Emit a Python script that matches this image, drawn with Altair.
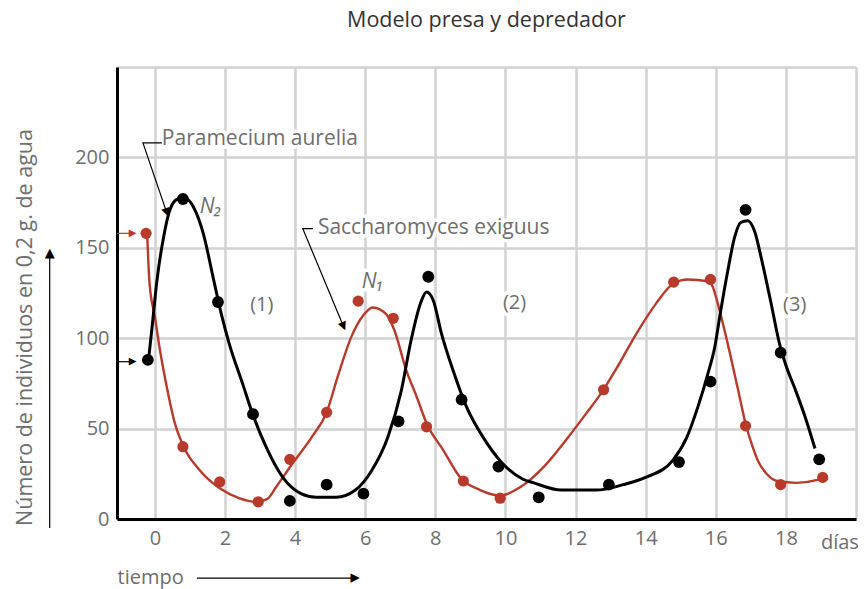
import altair as alt
import pandas as pd

# ---------------- data ----------------
# Paramecium aurelia (predator, N2) - observed points
para_x = [-0.2, 0.8, 1.8, 2.8, 3.85, 4.9, 5.95, 6.95, 7.8, 8.75, 9.8, 10.95, 12.95, 14.95, 15.85, 16.85, 17.85, 18.95]
para_y = [88, 177, 120, 58, 10, 19, 14, 54, 134, 66, 29, 12, 19, 31.5, 76, 171, 92, 33]

# Saccharomyces exiguus (prey, N1) - observed points
sacc_x = [-0.25, 0.8, 1.85, 2.95, 3.85, 4.9, 5.8, 6.8, 7.75, 8.8, 9.85, 12.8, 14.8, 15.85, 16.85, 17.85, 19.05]
sacc_y = [158, 40, 20.5, 9.5, 33, 59, 120.5, 111, 51, 21, 11.5, 71.5, 131, 132.5, 51.5, 19, 23]

# fitted curve for Paramecium (black)
para_curve_x = [-0.17, -0.08, 0.06, 0.25, 0.43, 0.65, 0.85, 1.1, 1.38, 1.68, 1.9, 2.12, 2.5, 2.8, 3.17,
                3.65, 4.17, 4.6, 5.17, 5.72, 6.19, 6.64, 7.03, 7.31, 7.58, 7.75, 7.94, 8.17, 8.51, 8.89,
                9.37, 9.86, 10.5, 10.81, 11.59, 12.58, 13.36, 14.0, 14.78, 15.17, 15.49, 15.77, 15.97,
                16.14, 16.34, 16.54, 16.71, 16.91, 17.11, 17.29, 17.57, 17.83, 18.0, 18.26, 18.54, 18.83]
para_curve_y = [90, 106, 132, 156, 171, 177, 177.5, 172.6, 158, 132, 113, 97, 75, 57.5, 40,
                23, 14, 12, 12, 16, 27, 45, 71, 99, 119.5, 125.6, 121, 103, 82, 62,
                45, 32, 22, 20, 16, 16, 19, 23, 32.6, 45, 62, 80, 95,
                115, 137, 156, 164, 165, 159, 145, 120, 96, 85, 72, 57, 39]

# fitted curve for Saccharomyces (red)
sacc_curve_x = [-0.22, -0.15, 0.0, 0.14, 0.34, 0.57, 0.82, 1.28, 1.85, 2.4, 2.9, 3.2, 3.47, 3.9, 4.5,
                4.9, 5.22, 5.61, 5.92, 6.22, 6.61, 6.83, 7.17, 7.47, 7.75, 8.23, 8.71, 9.28, 9.86,
                10.43, 11.1, 11.78, 12.29, 12.78, 13.16, 13.75, 14.29, 14.81, 15.2, 15.77, 15.91,
                16.06, 16.34, 16.63, 16.86, 17.0, 17.21, 17.45, 17.75, 18.3, 18.9, 19.05]
sacc_curve_y = [158, 130, 112, 94, 73, 53, 40, 27, 17, 11.6, 9.5, 11, 18, 30, 46,
                59, 79, 101, 112, 117, 113, 104.5, 82.4, 67.5, 53, 38, 23, 16, 13,
                17.7, 29, 45, 58, 71, 83, 103, 119, 130.5, 132.5, 131.5, 128.6,
                119, 97, 72, 52, 43, 32, 25, 21, 20, 21.6, 23]

# annotation texts
label_text = ["Paramecium aurelia", "Saccharomyces exiguus"]
label_x = [0.2, 4.65]
label_y = [210, 161]
n_text = ["N\u2082", "N\u2081"]
n_x = [1.28, 5.9]
n_y = [172.8, 131]
phase_text = ["(1)", "(2)", "(3)"]
phase_x = [3.05, 10.26, 18.25]
phase_y = [118.5, 119.3, 118.5]
unit_text = ["días"]
unit_x = [19.54]
unit_y = [-13.3]

# leader / arrow polylines (id, order, x, y)
leader_id = ["p", "p", "p", "s", "s", "s", "ya", "ya", "xa", "xa"]
leader_o = [0, 1, 2, 0, 1, 2, 0, 1, 0, 1]
leader_x = [0.2, -0.34, 0.33, 4.51, 4.22, 5.37, -3.0, -3.0, 1.2, 5.7]
leader_y = [208, 208, 170, 160.6, 160.6, 107, -5, 146, -32.7, -32.7]
# arrow heads: position and pointing angle (degrees clockwise from up)
head_x = [0.34, 5.38, -3.0, 5.75, -0.62]
head_y = [169.5, 106.5, 147, -32.7, 87]
head_ang = [161, 157, 0, 90, 90]
head_size = [11, 11, 13, 12, 10]
red_head_x = [-0.62]
red_head_y = [158]
red_head_ang = [90]
red_arrow_x = [-1.08, -0.62]
red_arrow_y = [158, 158]
black_arrow_x = [-1.08, -0.62]
black_arrow_y = [87, 87]

# ---------------- styling ----------------
FONT = "Open Sans"
GRAY = "#6e6e6e"
RED = "#b83a2b"

x_enc = alt.X(
    "x:Q",
    scale=alt.Scale(domain=[-1.08, 20], nice=False, zero=False),
    axis=alt.Axis(
        values=list(range(0, 21, 2)),
        labelExpr="datum.value >= 20 ? '' : datum.label",
        grid=True, gridColor="#d2d2d2", gridWidth=2.5,
        ticks=False, domainColor="black", domainWidth=3,
        labelFont=FONT, labelFontSize=20, labelColor=GRAY, labelPadding=9, labelFlush=False,
        title="tiempo", titleFont=FONT, titleFontSize=20, titleFontWeight="normal", titleColor=GRAY,
        titleX=0, titleY=58, titleAlign="left", titleBaseline="middle", titleAngle=0,
    ),
)
y_enc = alt.Y(
    "y:Q",
    scale=alt.Scale(domain=[0, 250], nice=False),
    axis=alt.Axis(
        values=list(range(0, 251, 50)),
        labelExpr="datum.value >= 250 ? '' : datum.label",
        grid=True, gridColor="#d2d2d2", gridWidth=2.5,
        ticks=False, domainColor="black", domainWidth=3,
        labelFont=FONT, labelFontSize=20, labelColor=GRAY, labelPadding=8,
        title="Número de individuos en 0,2 g. de agua", titleFont=FONT, titleFontSize=21.5,
        titleFontWeight="normal", titleColor=GRAY,
        titleX=-92, titleY=260, titleAngle=270, titleAlign="center", titleBaseline="middle",
    ),
)

pts_para = pd.DataFrame({"x": para_x, "y": para_y})
pts_sacc = pd.DataFrame({"x": sacc_x, "y": sacc_y})
cur_para = pd.DataFrame({"x": para_curve_x, "y": para_curve_y})
cur_sacc = pd.DataFrame({"x": sacc_curve_x, "y": sacc_curve_y})
lab_df = pd.DataFrame({"x": label_x, "y": label_y, "t": label_text})
n_df = pd.DataFrame({"x": n_x, "y": n_y, "t": n_text})
ph_df = pd.DataFrame({"x": phase_x, "y": phase_y, "t": phase_text})
unit_df = pd.DataFrame({"x": unit_x, "y": unit_y, "t": unit_text})
lead_df = pd.DataFrame({"id": leader_id, "o": leader_o, "x": leader_x, "y": leader_y})
red_arr = pd.DataFrame({"x": red_arrow_x, "y": red_arrow_y})
blk_arr = pd.DataFrame({"x": black_arrow_x, "y": black_arrow_y})


def txt(df, halo=False, **kw):
    opts = dict(font=FONT, fontSize=21, align="left", baseline="middle", color=GRAY)
    opts.update(kw)
    if halo:
        opts.update(stroke="white", strokeWidth=7, color="white")
    return alt.Chart(df).mark_text(**opts).encode(x=x_enc, y=y_enc, text="t:N")


def heads(xs, ys, angs, sizes, color):
    out = []
    for hx, hy, ha, hs in zip(xs, ys, angs, sizes):
        out.append(
            alt.Chart(pd.DataFrame({"x": [hx], "y": [hy], "t": ["\u25b2"]})).mark_text(
                font="DejaVu Sans", fontSize=hs, color=color, angle=ha,
                align="center", baseline="middle",
            ).encode(x=x_enc, y=y_enc, text="t:N")
        )
    return out


layers = [
    txt(lab_df, halo=True),
    txt(n_df, halo=True, fontStyle="italic"),
    txt(ph_df, halo=True, align="center", fontSize=20),
    alt.Chart(cur_sacc).mark_line(color=RED, strokeWidth=2.4, interpolate="monotone").encode(x=x_enc, y=y_enc),
    alt.Chart(cur_para).mark_line(color="black", strokeWidth=3, interpolate="monotone").encode(x=x_enc, y=y_enc),
    alt.Chart(pts_sacc).mark_circle(color=RED, size=125, opacity=1).encode(x=x_enc, y=y_enc),
    alt.Chart(pts_para).mark_circle(color="black", size=140, opacity=1).encode(x=x_enc, y=y_enc),
    alt.Chart(lead_df).mark_line(color="black", strokeWidth=1.2).encode(
        x=x_enc, y=y_enc, detail="id:N", order="o:Q"),
    alt.Chart(red_arr).mark_line(color=RED, strokeWidth=1.2).encode(x=x_enc, y=y_enc),
    alt.Chart(blk_arr).mark_line(color="black", strokeWidth=1.2).encode(x=x_enc, y=y_enc),
]
layers += heads(head_x, head_y, head_ang, head_size, "black")
layers += heads(red_head_x, red_head_y, red_head_ang, [10], RED)
layers += [
    txt(lab_df),
    txt(n_df, fontStyle="italic"),
    txt(ph_df, align="center", fontSize=20),
    txt(unit_df, align="center", fontSize=20),
]

chart = alt.layer(*layers).properties(
    width=739,
    height=452,
    autosize=alt.AutoSizeParams(type="none"),
    padding={"left": 109, "top": 59, "right": 2, "bottom": 70},
    title=alt.TitleParams("Modelo presa y depredador", font=FONT, fontSize=21.5, fontWeight="normal",
                          color="#333333", anchor="middle", offset=36),
).configure_view(strokeWidth=0)

chart.save("out.html", embed_options={"renderer": "svg", "actions": False})
